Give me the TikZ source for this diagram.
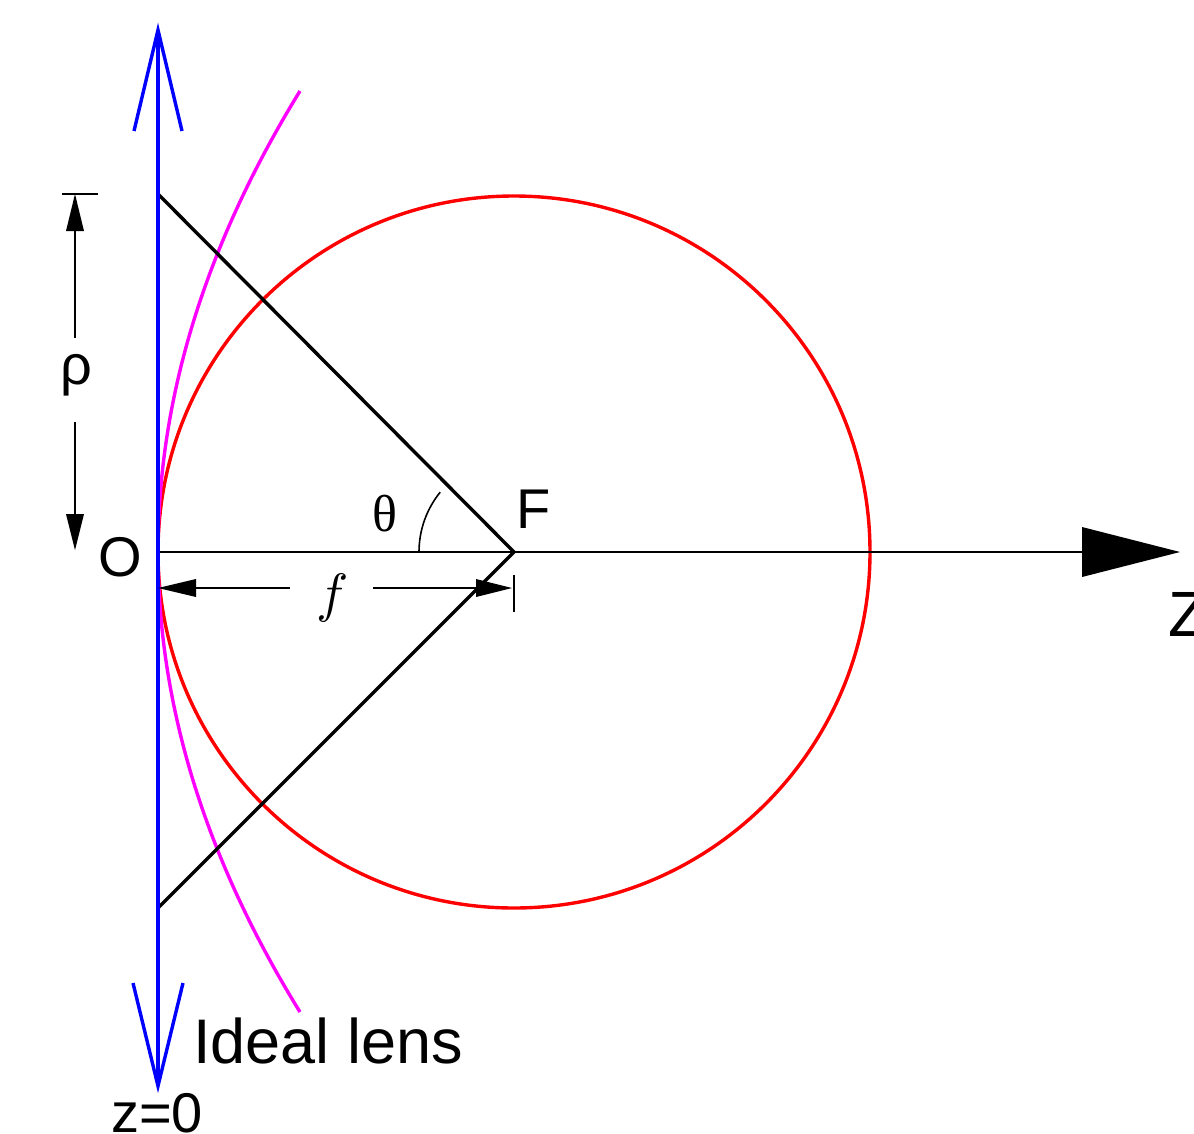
\documentclass[tikz,border=0pt]{standalone}
\usepackage{fontspec}
\usepackage{graphicx}
\setmainfont{Liberation Sans}
\newfontfamily\serifgr{Liberation Serif}
\usetikzlibrary{calc}
\definecolor{lensblue}{RGB}{0,0,255}
\definecolor{circred}{RGB}{255,0,0}
\definecolor{lensmag}{RGB}{255,0,255}
\begin{document}
\begin{tikzpicture}[x=1pt,y=-1pt,
  thick/.style={line width=3.4pt},
  dimline/.style={line width=2pt,black},
  lbl/.style={inner sep=0pt,font=\fontsize{56}{60}\selectfont}]
\useasboundingbox (0,0) rectangle (1194,1133);
% key points
\coordinate (O) at (158,552);
\coordinate (F) at (514,552);
\coordinate (Ltop) at (158,30);
\coordinate (Lbot) at (158,1086);
\coordinate (Rtop) at (158,194);
\coordinate (Rbot) at (158,908);
\coordinate (Mtop) at (300,91);
\coordinate (Mbot) at (300,1012);
\coordinate (Zend) at (1082,552);
% red circle
\draw[circred,line width=3.4pt] (F) circle (356);
% magenta lens curve (parabola)
\draw[lensmag,line width=3.4pt] (Mtop) .. controls (110.7,398.3) and (110.7,705.3) .. (Mbot);
% axis
\draw[line width=2pt] (O) -- (Zend);
\fill[black] (1082,527) -- (1180,552) -- (1082,577) -- cycle;
% rays
\draw[thick,black] (Rtop) -- (F) -- (Rbot);
% blue lens line with open heads
\draw[lensblue,line width=3.4pt] (Ltop) -- (Lbot);
\draw[lensblue,line width=3.4pt] (134,131) -- (Ltop) -- (182,131);
\draw[lensblue,line width=3.4pt] (133,983) -- (Lbot) -- (183,983);
% theta arc
\draw[line width=1.6pt] ($(F)+(-95,0)$) arc[start angle=180,end angle=219,radius=95];
% rho dimension
\draw[dimline] (62,194) -- (98,194);
\draw[dimline] (75,228) -- (75,338);
\fill[black] (75,194) -- (84,231) -- (66,231) -- cycle;
\draw[dimline] (75,422) -- (75,516);
\fill[black] (75,550) -- (84,514) -- (66,514) -- cycle;
% f dimension
\draw[dimline] (192,588) -- (290,588);
\fill[black] (158,588) -- (196,579) -- (196,597) -- cycle;
\draw[dimline] (373,588) -- (480,588);
\fill[black] (512,588) -- (476,579) -- (476,597) -- cycle;
\draw[dimline] (514,575) -- (514,612);
% labels
\node[lbl,anchor=base] (lO) at (120,576) {O};
\node[lbl,anchor=base west] (lF) at (516,528) {F};
\node[lbl,anchor=base west,font=\fontsize{64}{70}\selectfont] (lZ) at (1168,636) {Z};
\node[lbl] (lrho) at (76,375) {ρ};
\node[inner sep=0pt,font=\serifgr\fontsize{52}{56}\selectfont] (lth) at (385,514) {θ};
\node[inner sep=0pt] (lf) at (333,598) {\scalebox{5.4}{$f$}};
\node[lbl,anchor=base west,font=\fontsize{63}{70}\selectfont] (lIL) at (193,1063) {Ideal lens};
\node[lbl,anchor=base] (lz0) at (157,1132) {z=0};
\end{tikzpicture}
\end{document}
